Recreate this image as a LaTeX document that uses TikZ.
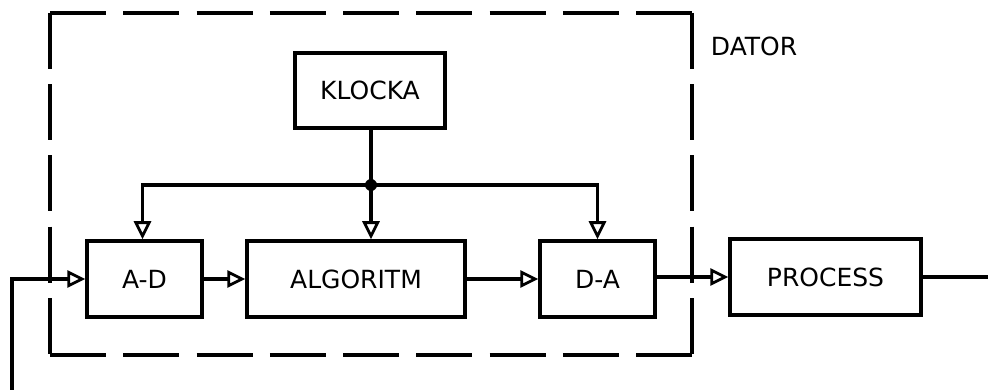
\documentclass[tikz,border=0pt]{standalone}
\usepackage{fontspec}
\setmainfont{DejaVu Sans}
\usetikzlibrary{arrows.meta}
\begin{document}
\begin{tikzpicture}[x=1pt,y=-1pt,
  line width=3.3pt,
  lbl/.style={font=\fontsize{25}{30}\selectfont},
  blk/.style={draw, rectangle, inner sep=0pt, minimum height=76pt, line width=3.5pt, lbl},
  sig/.style={-{Triangle[open,length=18pt,width=17pt,line width=2.8pt]}},
  hframe/.style={line width=3.2pt, dash pattern=on 56pt off 17.25pt},
  vframe/.style={line width=3.2pt, dash pattern=on 56pt off 15.25pt}]
\useasboundingbox (0,0) rectangle (988,390);

% computer boundary (dashed)
\coordinate (fnw) at (50,13);
\coordinate (fne) at (692,13);
\coordinate (fsw) at (50,355);
\coordinate (fse) at (692,355);
\draw[hframe] (fnw) -- (fne);
\draw[hframe] (fsw) -- (fse);
\draw[vframe] (fnw) -- (fsw);
\draw[vframe] (fne) -- (fse);
\node[anchor=west, lbl] (dator) at (706,46) {DATOR};

% blocks
\node[blk, minimum width=150pt, minimum height=75pt] (klocka) at (370,90.5) {KLOCKA};
\node[blk, minimum width=115pt] (ad) at (144.5,279) {A-D};
\node[blk, minimum width=218pt] (alg) at (356,279) {ALGORITM};
\node[blk, minimum width=115pt] (da) at (597.5,279) {D-A};
\node[blk, minimum width=191pt] (proc) at (825.5,277) {PROCESS};

% clock distribution
\coordinate (junction) at (371,185);
\draw (klocka.south -| junction) -- (junction);
\fill (junction) circle (6pt);
\draw[sig] (junction) -- (junction |- alg.north);
\draw[sig] (junction) -| ([xshift=-2pt]ad.north);
\draw[sig] (junction) -| (da.north);

% signal path
\coordinate (input) at (12,392);
\coordinate (output) at (990,277);
\draw[sig] (input) |- (ad.west);
\draw[sig] (ad.east) -- (alg.west);
\draw[sig] (alg.east) -- (da.west);
\draw[sig] (da.east |- proc.west) -- (proc.west);
\draw (proc.east) -- (output);
\end{tikzpicture}
\end{document}
